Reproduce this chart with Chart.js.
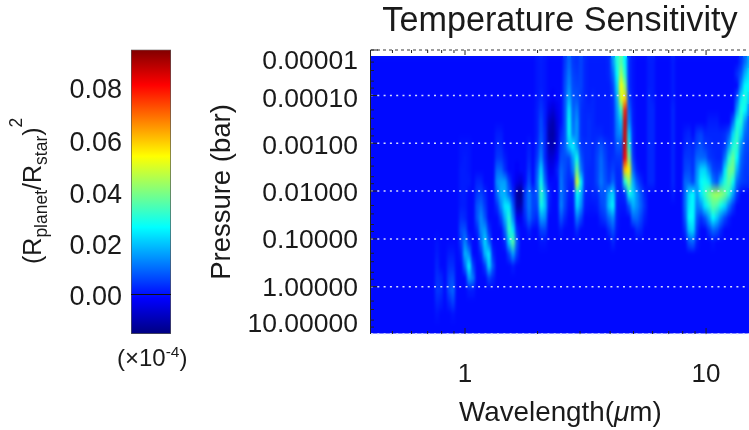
<!DOCTYPE html>
<html>
<head>
<meta charset="utf-8">
<title>Temperature Sensitivity</title>
<script src="https://cdn.jsdelivr.net/npm/chart.js@4"></script>
<style>
    html, body { margin: 0; padding: 0; background: #fff; overflow: hidden; }
    #wrap { position: relative; width: 749px; height: 430px; }
    canvas { position: absolute; top: 0; filter: blur(0.45px); }
    #barChart { left: 0; }
    #heatChart { left: 0; }
</style>
</head>
<body>
<div id="wrap">
    <canvas id="heatChart" width="749" height="430"></canvas>
    <canvas id="barChart" width="200" height="430"></canvas>
</div>
<script>
const FONT = '"Liberation Sans", Arial, sans-serif';
const TEXT = '#1a1a1a';

// Colour scale
const COLOR_MIN = -15.5;   // units of 0.001
const COLOR_MAX = 95.5;
const jetStops = [[0, '#000080'], [0.125, '#0000ff'], [0.375, '#00ffff'], [0.625, '#ffff00'], [0.875, '#ff0000'], [1, '#800000']];
// labels sit a little off their true values in the original, 0 carries the black line
const colorbarLabels = ['0.00', '', '0.02', '0.04', '0.06', '0.08'];
const colorbarLabelAt = [-0.0012, 0, 0.0186, 0.0387, 0.059, 0.0796];

// Axes
const waveTicks = [1, 10];
const waveMinor = [0.5, 0.6, 0.7, 0.8, 0.9, 2, 3, 4, 5, 6, 7, 8, 9];
const pressureLabels = ['0.00001', '0.00010', '0.00100', '0.01000', '0.10000', '1.00000', '10.00000'];
// where the labels sit on the axis (the original nudges them off their ticks)
const pressureLabelAt = [2e-5, 1.24e-4, 1.19e-3, 1.15e-2, 0.111, 1.12, 6.3];
const gridPressures = [1e-4, 1e-3, 1e-2, 1e-1, 1];
const pressureMinor = [2e-5, 3e-5, 5e-5, 7e-5, 2e-4, 3e-4, 5e-4, 7e-4, 2e-3, 3e-3, 5e-3, 7e-3, 2e-2, 3e-2, 5e-2, 7e-2, 0.2, 0.3, 0.5, 0.7, 2, 3, 5, 7];
const WAVE_MIN = 0.4074, WAVE_MAX = 15.07;
const P_MIN = 1.117e-5, P_MAX = 9.77;

// Model grid: 95 wavelengths x 23 pressures, both log spaced
const WAVE_COLS = 95, LOG_WAVE_START = -0.3817, LOG_WAVE_STEP = 0.0166;
const LOG_P_START = -4.69, LOG_P_STEP = 0.251;

// Sensitivity, units of 0.001. One entry per pressure,
// each segment is [first column, values...], anything not listed is 0.
const heatRows = [
    [[41,1,2,1],[48,5,10,5,4,6,3,2,2,2,2,2,3,15,30,36,26,4,1],[69,2,2],[75,2],[92,4,10,18]],
    [[41,1,2,1],[48,6,12,6,5,6,3,2,2,2,2,2,3,10,26,44,30,4,1],[69,2,2],[75,2],[91,4,8,18,24]],
    [[41,1,2,1],[48,7,14,7,6,6,3,2,2,2,2,2,2,6,22,54,40,4,1],[69,2,2],[75,2],[92,14,26,26]],
    [[41,1,3,1],[45,-2],[48,8,18,8,8,5,3,2,3,2,2,2,2,4,18,50,58,6,1],[69,3,2],[75,2],[91,8,24,30,22]],
    [[41,2,5,2],[44,-4,-6,-3],[48,8,24,9,12,4,3,3,3,2,2,2,2,3,15,32,78,10,2],[69,3,3],[75,3],[91,16,30,26,14]],
    [[41,2,7,2],[44,-8,-10,-5],[48,8,27,10,15,4,3,4,3,2,2,2,2,3,13,20,86,14,2],[69,3,3],[75,3],[84,2,2,2],[90,10,28,30,15,8]],
    [[31,2,2],[41,2,8,3],[44,-10,-11,-6,3],[48,8,27,12,15,4,3,4,3,3,3,2,2,3,12,14,86,22,3],[69,3,3],[75,3],[78,2,3],[81,5,6,3,3,3,3,3,4,8,22,32,22,10,8]],
    [[22,1,1,1],[31,3,3],[39,2],[41,3,10,3],[44,-9,-10,-5,5],[48,9,20,25,15,5,4,4,3,5,8,5,3,3,8,8,86,30,3],[69,3,3],[75,3],[78,3,4,3],[81,6,8,5,4,3,3,3,5,16,30,32,14,7,6]],
    [[22,1,2,1],[31,5,5,2],[39,3],[41,5,14,3],[44,-6,-6,-2,7],[48,7,6,16,28,8,4,4,3,6,10,6,3,4,5,5,82,40,5],[69,3,3],[75,3],[78,5,5,4],[81,10,10,10,5,4,3,3,12,30,38,26,10,6,5]],
    [[22,2,2,1],[31,10,10,4],[36,-2],[39,5],[41,8,22,6],[44,-3,-3,2,10],[48,7,4,12,38,12,4,3,3,6,11,7,4,6,3,4,60,55,10,2],[69,3,3],[75,3],[78,6,7,4],[81,14,22,22,14,6,5,6,24,38,38,18,8,5,5]],
    [[22,2,2,2],[26,3,3],[31,14,16,16,6],[36,-4,-6],[39,8],[41,10,28,10],[47,12,6,3,3,50,25,4,3,3,6,12,8,5,10,3,3,30,42,18,8,3],[69,3,3],[75,3],[78,10,10,6],[81,16,26,28,24,12,8,20,30,36,28,10,6,5,4]],
    [[22,2,2],[26,5,6,3],[31,10,18,18,10,3,-12,-14],[38,5,12,6],[41,8,32,18,3],[47,12,7,2,2,26,18,3,2,3,3,8,8,18,22,3,2,4,28,22,14,8,3],[75,2],[78,10,22,26,14],[82,24,32,38,42,44,42,38,30,16,5]],
    [[22,2,2],[26,8,10,5],[31,4,14,24,24,8,-10,-10],[38,5,12,6],[41,6,28,20,2],[47,13,6,1,1,22,14,2,1,1,2,6,8,20,25,2,1,1,8,18,14,9,4],[78,10,24,26,12,14,24,30,36,34,28,22,12,5]],
    [[22,4,3],[26,8,14,8],[32,6,18,30,14,-3,-3],[38,3,10,5],[41,3,16,14],[47,8,3],[51,12,6],[57,3,5,10,14,2],[65,10,10,6,2],[78,8,26,26,8,4,8,16,26,20,12,6,2]],
    [[22,7,8],[26,3,14,16,4],[33,10,32,24,3],[39,3],[42,6,6],[47,2],[51,4],[59,4,8,1],[66,4,3],[78,4,20,22,5],[84,5,10,8,3]],
    [[16,1],[22,5,13,4],[27,10,22,10],[33,3,22,36,8],[42,1,1],[60,3],[79,8,10,2],[85,1]],
    [[16,2],[19,2,2],[22,2,18,14],[27,3,18,24,3],[34,6,16,5]],
    [[16,3],[19,4,4],[23,10,26,6],[28,5,22,8],[35,2]],
    [[16,4,3],[19,6,7],[24,16,12],[29,6,3]],
    [[16,5,4],[19,7,10],[24,2,2]],
    [[16,3,2],[19,3,6]],
    [[16,1],[20,1]],
    []
];

/**
 * Jet colour for a sensitivity value
 */
function jetColor(v) {
    const t = Math.min(1, Math.max(0, (v - COLOR_MIN) / (COLOR_MAX - COLOR_MIN)));
    const hex = s => [1, 3, 5].map(i => parseInt(s.substr(i, 2), 16));
    for (let i = 1; i < jetStops.length; i++) {
        if (t <= jetStops[i][0]) {
            const f = (t - jetStops[i - 1][0]) / (jetStops[i][0] - jetStops[i - 1][0]);
            const a = hex(jetStops[i - 1][1]), b = hex(jetStops[i][1]);
            return `rgb(${a.map((c, k) => Math.round(c + (b[k] - c) * f)).join(',')})`;
        }
    }
    return jetStops[jetStops.length - 1][1];
}

// One small canvas per value, used as the point style of the heat cells
const cellCanvases = {};
function cellStyle(v) {
    if (!cellCanvases[v]) {
        const c = document.createElement('canvas');
        c.width = 5;
        c.height = 13;
        const g = c.getContext('2d');
        g.fillStyle = jetColor(v);
        g.fillRect(0, 0, 5, 13);
        cellCanvases[v] = c;
    }
    return cellCanvases[v];
}

function buildCells() {
    const cells = [];
    heatRows.forEach((segments, r) => {
        const values = new Array(WAVE_COLS).fill(0);
        segments.forEach(seg => seg.slice(1).forEach((v, i) => { values[seg[0] + i] = v; }));
        values.forEach((v, c) => {
            cells.push({
                x: Math.pow(10, LOG_WAVE_START + LOG_WAVE_STEP * c),
                y: Math.pow(10, LOG_P_START + LOG_P_STEP * r),
                v: v
            });
        });
    });
    return cells;
}

function hLine(p, color, order, dash) {
    return {
        data: [{ x: WAVE_MIN, y: p }, { x: WAVE_MAX, y: p }],
        showLine: true,
        pointRadius: 0,
        borderColor: color,
        borderWidth: 1.5,
        borderDash: dash,
        clip: false,
        order: order
    };
}

/**
 * Text with sub and superscripts. Runs: [text, size, shift, italic]
 */
function drawRuns(ctx, runs, x, y, rotated) {
    ctx.save();
    ctx.translate(x, y);
    if (rotated) ctx.rotate(-Math.PI / 2);
    ctx.fillStyle = TEXT;
    ctx.textBaseline = 'alphabetic';
    let pos = 0;
    runs.forEach(([text, size, shift, italic]) => {
        ctx.font = `${italic ? 'italic ' : ''}${size}px ${FONT}`;
        ctx.fillText(text, pos, shift);
        pos += ctx.measureText(text).width;
    });
    ctx.restore();
}

// Smooths the blocky cells in place, the cells are 12px tall so that is the box used
const smoothCells = {
    id: 'smoothCells',
    afterDatasetDraw(chart, args) {
        if (args.index !== 0) return;
        const { left, width } = chart.chartArea;
        const y = chart.scales.y;
        const top = Math.round(y.getPixelForValue(Math.pow(10, LOG_P_START))) - 6;
        const bottom = Math.round(chart.chartArea.bottom);
        const height = bottom - top;
        const copy = document.createElement('canvas');
        copy.width = width;
        copy.height = height;
        copy.getContext('2d').drawImage(chart.canvas, left, top, width, height, 0, 0, width, height);
        const soft = document.createElement('canvas');
        soft.width = width;
        soft.height = height;
        const s = soft.getContext('2d');
        s.drawImage(copy, 0, 0);
        for (let i = 0; i < 12; i++) {
            s.globalAlpha = 1 / (i + 1);
            s.drawImage(copy, 0, i - 5.5);
        }
        const ctx = chart.ctx;
        ctx.save();
        ctx.beginPath();
        ctx.rect(left, top, width, height);
        ctx.clip();
        ctx.filter = 'blur(1.6px)';
        ctx.drawImage(soft, left, top);
        ctx.restore();
    }
};

// Frame ticks and the axis title with the italic mu
const frameMarks = {
    id: 'frameMarks',
    afterDraw(chart) {
        const ctx = chart.ctx;
        const { left, top, bottom } = chart.chartArea;
        const x = chart.scales.x, y = chart.scales.y;
        ctx.save();
        ctx.strokeStyle = '#222';
        ctx.lineWidth = 1;
        const mark = (x0, y0, x1, y1) => {
            ctx.beginPath();
            ctx.moveTo(x0, y0);
            ctx.lineTo(x1, y1);
            ctx.stroke();
        };
        mark(left - 0.5, top, left - 0.5, bottom);
        mark(left - 0.5, top, left + 7, top);
        waveTicks.forEach(v => {
            const px = x.getPixelForValue(v);
            mark(px, bottom, px, bottom - 6);
            mark(px, top, px, top + 5);
        });
        waveMinor.forEach(v => {
            const px = x.getPixelForValue(v);
            mark(px, bottom, px, bottom - 3);
            mark(px, top, px, top + 3);
        });
        gridPressures.forEach(v => mark(left, y.getPixelForValue(v), left + 6, y.getPixelForValue(v)));
        pressureMinor.forEach(v => mark(left, y.getPixelForValue(v), left + 3, y.getPixelForValue(v)));
        ctx.restore();
        drawRuns(ctx, [['Wavelength(', 27.8, 0], ['\u03bc', 27.8, 0, true], ['m)', 27.8, 0]], 459, 421);
    }
};

// Label and multiplier of the colour bar
const barLabels = {
    id: 'barLabels',
    afterDraw(chart) {
        const ctx = chart.ctx;
        drawRuns(ctx, [['(R', 25, 0], ['planet', 17.5, 6], ['/R', 25, 0], ['star', 17.5, 6], [')', 25, 0], ['2', 17.5, -19]], 41, 264, true);
        drawRuns(ctx, [['(\u00d710', 24, 0], ['-4', 15.5, -9], [')', 24, 0]], 117, 366);
    }
};

function createHeatChart() {
    const datasets = [{
        data: buildCells(),
        pointStyle: ctx => (ctx.raw ? cellStyle(ctx.raw.v) : 'rect'),
        pointRadius: 3,
        order: 10
    }];
    gridPressures.forEach(p => datasets.push(hLine(p, 'rgba(226,232,255,0.95)', 2, [2, 4.3])));
    datasets.push(hLine(P_MAX, 'rgba(226,232,255,0.95)', 2, [2, 4.3]));
    datasets.push(hLine(P_MIN, 'rgba(110,110,110,0.9)', 2, [3, 3]));

    new Chart(document.getElementById('heatChart'), {
        type: 'scatter',
        data: { datasets: datasets },
        plugins: [smoothCells, frameMarks],
        options: {
            responsive: false,
            animation: false,
            devicePixelRatio: 1,
            layout: { padding: 0, autoPadding: false },
            events: [],
            plugins: {
                legend: { display: false },
                tooltip: { enabled: false },
                title: {
                    display: true,
                    fullSize: false,
                    text: 'Temperature Sensitivity',
                    color: TEXT,
                    font: { family: FONT, size: 34.2, weight: 'normal', lineHeight: 1 },
                    padding: { top: 4, bottom: 11.8 }
                }
            },
            scales: {
                x: {
                    type: 'logarithmic',
                    min: WAVE_MIN,
                    max: WAVE_MAX,
                    grid: { display: false },
                    border: { display: false },
                    afterFit: scale => { scale.height = 96; },
                    afterBuildTicks: scale => { scale.ticks = waveTicks.map(v => ({ value: v, major: true })); },
                    ticks: {
                        autoSkip: false,
                        maxRotation: 0,
                        padding: 17,
                        color: TEXT,
                        font: { family: FONT, size: 26 },
                        callback: value => String(value)
                    }
                },
                y: {
                    type: 'logarithmic',
                    reverse: true,
                    min: P_MIN,
                    max: P_MAX,
                    grid: { display: false, drawTicks: false },
                    border: { display: false },
                    afterFit: scale => { scale.width = 371; },
                    afterBuildTicks: scale => { scale.ticks = pressureLabelAt.map(v => ({ value: v, major: true })); },
                    title: {
                        display: true,
                        text: 'Pressure (bar)',
                        color: TEXT,
                        font: { family: FONT, size: 27.5, lineHeight: 1.2 },
                        padding: { top: 206, bottom: 0 }
                    },
                    ticks: {
                        autoSkip: false,
                        padding: 13,
                        color: TEXT,
                        font: { family: FONT, size: 26.5 },
                        callback: (value, index) => pressureLabels[index]
                    }
                }
            }
        }
    });
}

function createBarChart() {
    new Chart(document.getElementById('barChart'), {
        type: 'bar',
        data: {
            labels: [''],
            datasets: [{
                data: [[COLOR_MIN / 1000, COLOR_MAX / 1000]],
                backgroundColor: ctx => {
                    const area = ctx.chart.chartArea;
                    if (!area) return '#0000ff';
                    const g = ctx.chart.ctx.createLinearGradient(0, area.bottom, 0, area.top);
                    jetStops.forEach(([at, color]) => g.addColorStop(at, color));
                    return g;
                },
                borderColor: '#555',
                borderWidth: 1,
                borderSkipped: false,
                barPercentage: 1,
                categoryPercentage: 1
            }]
        },
        plugins: [barLabels],
        options: {
            responsive: false,
            animation: false,
            devicePixelRatio: 1,
            events: [],
            layout: { padding: { top: 49.5, bottom: 96, right: 29, left: 0 } },
            plugins: { legend: { display: false }, tooltip: { enabled: false } },
            scales: {
                x: { display: false },
                y: {
                    min: COLOR_MIN / 1000,
                    max: COLOR_MAX / 1000,
                    afterFit: scale => { scale.width = 131; },
                    afterBuildTicks: scale => { scale.ticks = colorbarLabelAt.map(v => ({ value: v })); },
                    border: { display: false },
                    grid: {
                        z: 1,
                        drawTicks: false,
                        color: ctx => (ctx.tick && ctx.tick.value === 0 ? '#111' : 'rgba(0,0,0,0)')
                    },
                    ticks: {
                        autoSkip: false,
                        padding: 9,
                        color: TEXT,
                        font: { family: FONT, size: 27 },
                        callback: (value, index) => colorbarLabels[index]
                    }
                }
            }
        }
    });
}

createHeatChart();
createBarChart();
</script>
</body>
</html>
